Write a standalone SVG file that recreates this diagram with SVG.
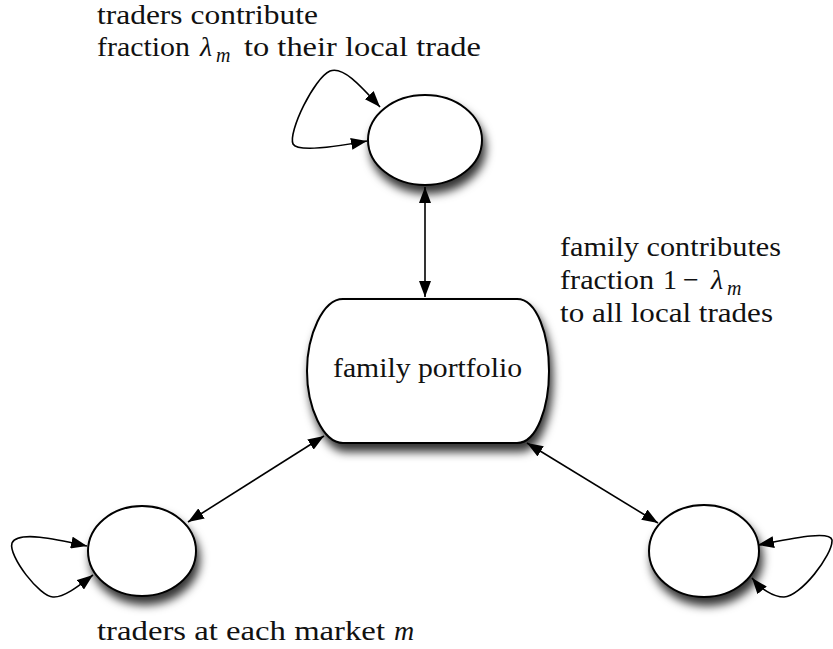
<svg xmlns="http://www.w3.org/2000/svg" width="833" height="649" viewBox="0 0 833 649" font-family="Liberation Serif, DejaVu Serif, serif">
<style>
.t { font-family: 'Liberation Serif', 'DejaVu Serif', serif; font-size: 28px; fill: #111; }
.it { font-style: italic; }
.sub { font-style: italic; font-size: 20px; }
.node { fill: #fff; stroke: #000; stroke-width: 2; filter: url(#sh); }
.edge { fill: none; stroke: #000; stroke-width: 1.6; marker-end: url(#ah); marker-start: url(#ah); }
</style>
<defs>
<filter id="sh" x="-30%" y="-30%" width="160%" height="170%">
<feDropShadow dx="3" dy="8" stdDeviation="5" flood-color="#000" flood-opacity="0.8"/>
</filter>
<marker id="ah" viewBox="0 0 16 12" refX="16" refY="6" markerWidth="16" markerHeight="12" markerUnits="userSpaceOnUse" orient="auto-start-reverse">
<path d="M0,0 L16,6 L0,12 z" fill="#000"/>
</marker>
</defs>
<rect width="833" height="649" fill="#fff"/>

<g id="connectors">
<path class="edge" d="M425,187 L425,297"/>
<path class="edge" d="M324,436 L188,522"/>
<path class="edge" d="M527,443 L658,523"/>
<path class="edge" d="M380,107 C360,85 343,66 330,71 C314,78 288,132 293,144 C298,153 340,146 367,141"/>
<path class="edge" d="M87,546 C60,540 18,530 12,543 C8,556 40,597 53,597 C64,598 80,585 93,575"/>
<path class="edge" d="M758,545 C790,539 830,530 832,540 C833,555 800,597 784,597 C773,597 761,589 752,578"/>
</g>

<g id="node-top">
<ellipse class="node" cx="425" cy="140" rx="57" ry="45"/>
</g>
<g id="node-family">
<path class="node" d="M343,299 L517,299 C537,299 549,335 549,371 C549,407 537,443 517,443 L343,443 C323,443 307,407 307,371 C307,335 323,299 343,299 Z"/>
<text class="t" style="font-family:'Liberation Serif',serif" x="333" y="377" textLength="189" lengthAdjust="spacingAndGlyphs">family portfolio</text>
</g>
<g id="node-left">
<ellipse class="node" cx="142" cy="551" rx="54" ry="45"/>
</g>
<g id="node-right">
<ellipse class="node" cx="704" cy="551" rx="55" ry="46"/>
</g>

<g id="labels">
<text class="t" x="97" y="24" textLength="221" lengthAdjust="spacingAndGlyphs">traders contribute</text>
<text class="t" x="97" y="56" textLength="93" lengthAdjust="spacingAndGlyphs">fraction</text>
<text class="t it" x="200" y="56">λ</text>
<text class="t sub" x="216" y="62">m</text>
<text class="t" x="244" y="56" textLength="237" lengthAdjust="spacingAndGlyphs">to their local trade</text>

<text class="t" x="560" y="256" textLength="221" lengthAdjust="spacingAndGlyphs">family contributes</text>
<text class="t" x="560" y="289" textLength="94" lengthAdjust="spacingAndGlyphs">fraction</text>
<text class="t" x="663" y="289">1</text>
<text class="t" x="683" y="289">−</text>
<text class="t it" x="711" y="289">λ</text>
<text class="t sub" x="727" y="295">m</text>
<text class="t" x="560" y="322" textLength="213" lengthAdjust="spacingAndGlyphs">to all local trades</text>

<text class="t" x="97" y="640" textLength="288" lengthAdjust="spacingAndGlyphs">traders at each market</text>
<text class="t it" x="394" y="640">m</text>
</g>
</svg>
